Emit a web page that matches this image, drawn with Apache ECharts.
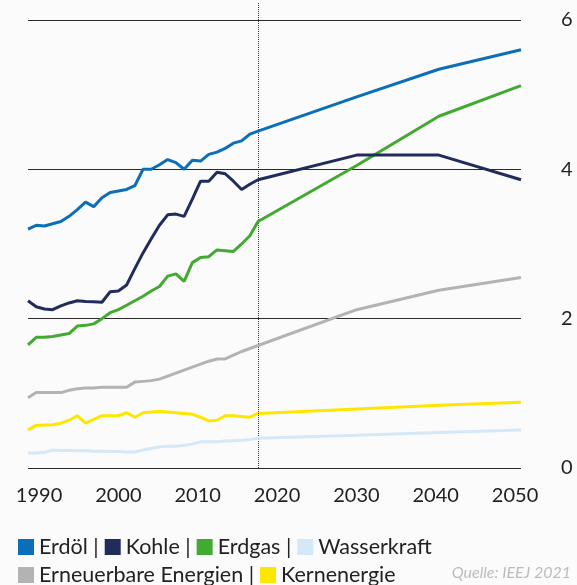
<!DOCTYPE html>
<html>
<head>
<meta charset="utf-8">
<script src="https://cdn.jsdelivr.net/npm/echarts@6/dist/echarts.min.js"></script>
<style>
  html, body { margin: 0; padding: 0; background: #fbfbfb; }
  #chart { width: 577px; height: 585px; }
</style>
</head>
<body>
<div id="chart"></div>
<script>
// years
var histYears = [1990, 1991, 1992, 1993, 1994, 1995, 1996, 1997, 1998, 1999,
  2000, 2001, 2002, 2003, 2004, 2005, 2006, 2007, 2008, 2009,
  2010, 2011, 2012, 2013, 2014, 2015, 2016, 2017, 2018]
var projYears = [2030, 2040, 2050]
var xLabels = [1990, 2000, 2010, 2020, 2030, 2040, 2050]
var yLabels = [0, 2, 4, 6]
var markYear = 2018

// values
var oilHist = [3.20, 3.25, 3.24, 3.27, 3.30, 3.37, 3.46, 3.56, 3.50, 3.62,
  3.69, 3.71, 3.73, 3.78, 4.00, 4.00, 4.06, 4.13, 4.09, 4.00,
  4.12, 4.11, 4.20, 4.23, 4.28, 4.35, 4.38, 4.47, 4.51]
var oilProj = [4.97, 5.34, 5.60]

var coalHist = [2.24, 2.16, 2.13, 2.12, 2.17, 2.21, 2.24, 2.23, 2.225, 2.22,
  2.36, 2.37, 2.45, 2.67, 2.88, 3.07, 3.25, 3.39, 3.40, 3.37,
  3.60, 3.84, 3.84, 3.96, 3.94, 3.84, 3.73, 3.80, 3.86]
var coalProj = [4.19, 4.19, 3.86]

var gasHist = [1.65, 1.75, 1.75, 1.76, 1.78, 1.80, 1.90, 1.91, 1.93, 2.00,
  2.08, 2.12, 2.18, 2.24, 2.30, 2.37, 2.43, 2.57, 2.60, 2.50,
  2.75, 2.82, 2.83, 2.92, 2.91, 2.90, 3.00, 3.11, 3.30]
var gasProj = [4.05, 4.71, 5.12]

var hydroHist = [0.20, 0.20, 0.21, 0.24, 0.235, 0.235, 0.23, 0.23, 0.225, 0.225,
  0.22, 0.22, 0.215, 0.215, 0.24, 0.26, 0.285, 0.29, 0.29, 0.30,
  0.32, 0.35, 0.35, 0.35, 0.36, 0.365, 0.37, 0.38, 0.40]
var hydroProj = [0.44, 0.475, 0.51]

var renewHist = [0.94, 1.01, 1.01, 1.01, 1.01, 1.04, 1.06, 1.07, 1.07, 1.08,
  1.08, 1.08, 1.08, 1.15, 1.16, 1.17, 1.19, 1.23, 1.27, 1.31,
  1.35, 1.39, 1.43, 1.46, 1.46, 1.51, 1.56, 1.60, 1.64]
var renewProj = [2.12, 2.38, 2.55]

var nuclearHist = [0.51, 0.57, 0.575, 0.58, 0.60, 0.64, 0.70, 0.60, 0.65, 0.70,
  0.70, 0.70, 0.74, 0.68, 0.74, 0.75, 0.76, 0.75, 0.74, 0.73,
  0.72, 0.68, 0.63, 0.64, 0.70, 0.70, 0.69, 0.68, 0.73]
var nuclearProj = [0.79, 0.84, 0.88]

var names = ['Erdöl', 'Kohle', 'Erdgas', 'Wasserkraft', 'Erneuerbare Energien', 'Kernenergie']
var colors = ['#0a6fb8', '#212b5c', '#42a931', '#d5e8f8', '#b3b3b3', '#ffe600']

function pairs(hist, proj) {
  var ret = []
  histYears.forEach(function(y, i) { ret.push([y, hist[i]]) })
  projYears.forEach(function(y, i) { ret.push([y, proj[i]]) })
  return ret
}

var seriesData = [
  pairs(oilHist, oilProj),
  pairs(coalHist, coalProj),
  pairs(gasHist, gasProj),
  pairs(hydroHist, hydroProj),
  pairs(renewHist, renewProj),
  pairs(nuclearHist, nuclearProj)
]

var sepAfter = ['Erdöl', 'Kohle', 'Erdgas', 'Erneuerbare Energien']
var font = 'Lato'

var chart = echarts.init(document.getElementById('chart'))

var series = []
// draw bottom ones first so Erdöl ends up on top
for (var i = names.length - 1; i >= 0; i--) {
  series.push({
    name: names[i],
    type: 'line',
    data: seriesData[i],
    xAxisIndex: 0,
    showSymbol: false,
    symbol: 'none',
    lineStyle: { color: colors[i], width: 3 },
    itemStyle: { color: colors[i] },
    z: 3 + (names.length - i)
  })
}
series[0].markLine = {
  silent: true,
  symbol: 'none',
  label: { show: false },
  lineStyle: { type: 'dotted', color: '#333', width: 1 },
  data: [{ xAxis: markYear }]
}

var legendCommon = {
  icon: 'rect',
  itemWidth: 16,
  itemHeight: 16,
  itemGap: 6,
  left: 18,
  padding: 0,
  selectedMode: false,
  textStyle: { fontFamily: font, fontSize: 21.5, color: '#222' },
  formatter: function(name) {
    return sepAfter.indexOf(name) >= 0 ? name + ' |' : name
  }
}

chart.setOption({
  backgroundColor: '#fbfbfb',
  animation: false,
  title: {
    text: 'Quelle: IEEJ 2021',
    right: 6,
    top: 565,
    padding: 0,
    textStyle: { fontFamily: font, fontSize: 16, fontStyle: 'italic', fontWeight: 'normal', color: '#bdbdbd' }
  },
  legend: [
    Object.assign({}, legendCommon, { top: 536, data: names.slice(0, 4) }),
    Object.assign({}, legendCommon, { top: 564, data: names.slice(4) })
  ],
  grid: { left: 28, right: 56, top: 2, bottom: 117 },
  xAxis: [
    {
      type: 'value',
      min: 1990,
      max: 2050,
      axisLine: { show: false },
      axisTick: { show: false },
      axisLabel: { show: false },
      splitLine: { show: false }
    },
    {
      // label-only axis, the source places the year labels slightly inset
      type: 'value',
      position: 'bottom',
      min: 1988.61,
      max: 2050.75,
      axisLine: { show: false },
      axisTick: { show: false, customValues: xLabels },
      splitLine: { show: false },
      axisLabel: {
        customValues: xLabels,
        formatter: function(v) { return String(v) },
        margin: 18,
        fontFamily: font,
        fontSize: 20,
        color: '#222'
      }
    }
  ],
  yAxis: {
    type: 'value',
    position: 'right',
    min: 0,
    max: 6.24,
    axisLine: { show: false },
    axisTick: { show: false, customValues: yLabels },
    axisLabel: {
      customValues: yLabels,
      margin: 40,
      fontFamily: font,
      fontSize: 20,
      color: '#222'
    },
    splitLine: { show: true, lineStyle: { color: '#2a2a2a', width: 1 } }
  },
  series: series
})
</script>
</body>
</html>
